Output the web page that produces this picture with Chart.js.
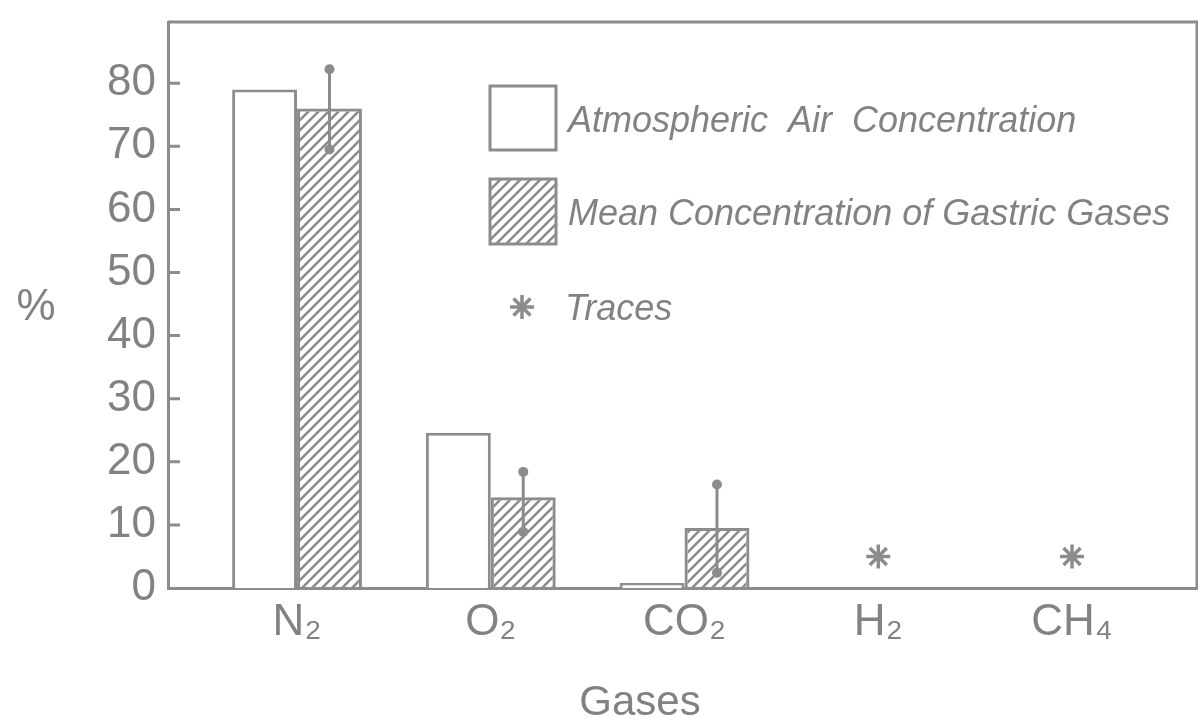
<!DOCTYPE html>
<html>
<head>
<meta charset="utf-8">
<script src="https://cdn.jsdelivr.net/npm/chart.js@4.4.1/dist/chart.umd.min.js"></script>
<style>
  html, body { margin: 0; padding: 0; background: #fff; }
  #wrap { width: 1198px; height: 719px; }
</style>
</head>
<body>
<div id="wrap"><canvas id="grafico" width="1198" height="719"></canvas></div>
<script>
// datos
const gases = ['N₂', 'O₂', 'CO₂', 'H₂', 'CH₄'];
const aireAtm = [79, 24.6, 0.8, null, null];
const gastrico = [76, 14.4, 9.5, null, null];
const errBajo = [69.5, 8.9, 2.4, null, null];
const errAlto = [82.2, 18.4, 16.4, null, null];
const trazas = [null, null, null, 5, 5];
const yTicks = [0, 10, 20, 30, 40, 50, 60, 70, 80];

const gris = '#8c8c8c';
const grisTexto = '#828282';

function rayado() {
  const S = 10;
  const c = document.createElement('canvas');
  c.width = S; c.height = S;
  const g = c.getContext('2d');
  g.strokeStyle = gris;
  g.lineWidth = 2.6;
  g.beginPath();
  g.moveTo(-1, S + 1); g.lineTo(S + 1, -1);
  g.moveTo(-2, 2); g.lineTo(2, -2);
  g.moveTo(S - 2, S + 2); g.lineTo(S + 2, S - 2);
  g.stroke();
  return g.createPattern(c, 'repeat');
}
const patron = rayado();

function asterisco(ctx, x, y, r) {
  ctx.save();
  ctx.strokeStyle = gris;
  ctx.lineWidth = 3.5;
  ctx.beginPath();
  for (let k = 0; k < 4; k++) {
    const a = k * Math.PI / 4;
    ctx.moveTo(x - r * Math.cos(a), y - r * Math.sin(a));
    ctx.lineTo(x + r * Math.cos(a), y + r * Math.sin(a));
  }
  ctx.stroke();
  ctx.restore();
}

const extras = {
  id: 'extras',
  afterDraw(chart) {
    const ctx = chart.ctx;
    const a = chart.chartArea;
    const y = chart.scales.y;
    ctx.save();
    ctx.strokeStyle = gris;
    ctx.lineWidth = 3;
    // marco superior y derecho
    ctx.beginPath();
    ctx.moveTo(a.left, a.top);
    ctx.lineTo(a.right, a.top);
    ctx.lineTo(a.right, a.bottom);
    ctx.stroke();
    // ticks hacia adentro
    ctx.beginPath();
    yTicks.forEach(v => {
      if (v === 0) return;
      const py = y.getPixelForValue(v);
      ctx.moveTo(a.left, py);
      ctx.lineTo(a.left + 12, py);
    });
    ctx.stroke();

    // barras de error
    const meta = chart.getDatasetMeta(1);
    meta.data.forEach((bar, i) => {
      if (errBajo[i] == null) return;
      const y1 = y.getPixelForValue(errBajo[i]);
      const y2 = y.getPixelForValue(errAlto[i]);
      ctx.lineWidth = 3;
      ctx.beginPath();
      ctx.moveTo(bar.x, y1);
      ctx.lineTo(bar.x, y2);
      ctx.stroke();
      ctx.fillStyle = gris;
      [y1, y2].forEach(py => {
        ctx.beginPath();
        ctx.arc(bar.x, py, 5, 0, Math.PI * 2);
        ctx.fill();
      });
    });

    // leyenda
    ctx.lineWidth = 3;
    ctx.fillStyle = '#fff';
    ctx.fillRect(490, 86, 66, 64);
    ctx.strokeRect(490, 86, 66, 64);
    ctx.fillStyle = patron;
    ctx.fillRect(490, 179, 66, 65);
    ctx.strokeRect(490, 179, 66, 65);
    asterisco(ctx, 522, 307, 12);

    ctx.fillStyle = grisTexto;
    ctx.font = 'italic 36px "Liberation Sans"';
    ctx.textAlign = 'left';
    ctx.textBaseline = 'alphabetic';
    ctx.fillText('Atmospheric  Air  Concentration', 568, 132);
    ctx.fillText('Mean Concentration of Gastric Gases', 568, 225);
    ctx.fillText('Traces', 565, 320);

    // titulos de ejes
    ctx.font = '44px "Liberation Sans"';
    ctx.textAlign = 'center';
    ctx.fillText('%', 36, 320);
    ctx.font = '42px "Liberation Sans"';
    ctx.fillText('Gases', 640, 715);
    ctx.restore();
  }
};

new Chart(document.getElementById('grafico'), {
  type: 'bar',
  data: {
    datasets: [
      {
        label: 'Atmospheric Air Concentration',
        data: aireAtm.map((v, i) => ({ x: i + 1, y: v })),
        backgroundColor: '#ffffff',
        borderColor: gris,
        borderWidth: 3,
        categoryPercentage: 0.67,
        barPercentage: 1.0
      },
      {
        label: 'Mean Concentration of Gastric Gases',
        data: gastrico.map((v, i) => ({ x: i + 1, y: v })),
        backgroundColor: patron,
        borderColor: gris,
        borderWidth: 3,
        categoryPercentage: 0.67,
        barPercentage: 1.0
      },
      {
        type: 'scatter',
        label: 'Traces',
        data: trazas.map((v, i) => ({ x: i + 1, y: v })),
        pointStyle: 'star',
        radius: 12,
        borderWidth: 3.5,
        borderColor: gris,
        backgroundColor: gris
      }
    ]
  },
  options: {
    responsive: false,
    animation: false,
    layout: { autoPadding: false, padding: { top: 22, right: 1, left: 0, bottom: 0 } },
    plugins: {
      legend: { display: false },
      tooltip: { enabled: false }
    },
    scales: {
      x: {
        type: 'linear',
        offset: false,
        min: 0.334,
        max: 5.645,
        grid: { display: false, drawTicks: false, offset: false },
        border: { color: gris, width: 3 },
        afterBuildTicks: s => { s.ticks = gases.map((g, i) => ({ value: i + 1 })); },
        afterFit: s => { s.height = 131; s.paddingLeft = 0; s.paddingRight = 0; },
        ticks: {
          padding: 8,
          color: grisTexto,
          font: { family: 'Liberation Sans', size: 44 },
          maxRotation: 0,
          callback: v => gases[v - 1]
        }
      },
      y: {
        min: 0,
        max: 89.7,
        grid: { display: false, drawTicks: false },
        border: { color: gris, width: 3 },
        afterBuildTicks: s => { s.ticks = yTicks.map(v => ({ value: v })); },
        afterFit: s => { s.width = 168; s.paddingTop = 0; s.paddingBottom = 0; },
        ticks: {
          padding: 12,
          color: grisTexto,
          font: { family: 'Liberation Sans', size: 44 }
        }
      }
    }
  },
  plugins: [extras]
});
</script>
</body>
</html>
